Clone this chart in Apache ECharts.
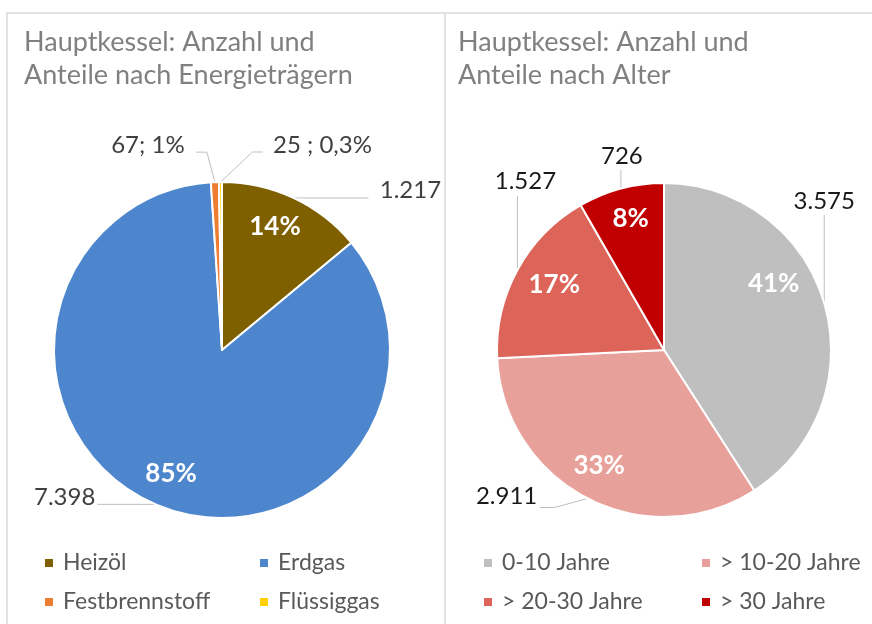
<!DOCTYPE html>
<html>
<head>
<meta charset="utf-8">
<script src="https://cdn.jsdelivr.net/npm/echarts@6/dist/echarts.min.js"></script>
<style>
html, body { margin: 0; padding: 0; background: #fff; }
#main { width: 872px; height: 624px; }
</style>
</head>
<body>
<div id="main"></div>
<script>
// Daten
var energyNames = ['Heizöl', 'Erdgas', 'Festbrennstoff', 'Flüssiggas'];
var energyValues = [1217, 7398, 67, 25];
var energyLabels = ['1.217', '7.398', '67; 1%', '25 ; 0,3%'];
var energyColors = ['#7F6000', '#4E86CE', '#ED7D31', '#FFD200'];

var ageNames = ['0-10 Jahre', '> 10-20 Jahre', '> 20-30 Jahre', '> 30 Jahre'];
var ageValues = [3575, 2911, 1527, 726];
var ageLabels = ['3.575', '2.911', '1.527', '726'];
var ageColors = ['#BFBFBF', '#E8A09A', '#DC6459', '#C00000'];

// Platzierung der Beschriftungen relativ zum Ankerpunkt auf dem Kreisbogen
var energyLabelPos = [
    { dx: 117, dy: -8, line: [[75, 0]] },
    { dx: -91, dy: -7, line: [[-58, 0]] },
    { dx: -67, dy: -37, line: [[-8, -30], [-19, -30]] },
    { dx: 102, dy: -37, line: [[32, -30], [42, -30]] }
];
var ageLabelPos = [
    { dx: 0, dy: -102, line: [[0, -88]] },
    { dx: -81, dy: -2, line: [[-33, 9], [-48, 9]] },
    { dx: 8, dy: -89, line: [[0, -74]] },
    { dx: 1, dy: -32, line: [[0, -19]] }
];
// Verschiebung der Prozentwerte im Kreis
var energyInnerShift = [[-4, -2], [2, 0], [0, 0], [0, 0]];
var ageInnerShift = [[-18, -29], [-4, -3], [7, -2], [1, -3]];

var FONT = 'Lato';

function buildData(names, values, colors) {
    return names.map(function (n, i) {
        return { name: n, value: values[i], itemStyle: { color: colors[i] } };
    });
}

function layoutFn(pos) {
    return function (params) {
        var p = pos[params.dataIndex];
        var a = params.labelLinePoints ? params.labelLinePoints[0] : [params.rect.x, params.rect.y];
        var pts = [[a[0], a[1]]];
        p.line.forEach(function (q) { pts.push([a[0] + q[0], a[1] + q[1]]); });
        return {
            x: a[0] + p.dx,
            y: a[1] + p.dy,
            align: 'center',
            verticalAlign: 'middle',
            labelLinePoints: pts
        };
    };
}

function outerSeries(center, r, names, values, colors, labels, pos, textColor) {
    return {
        type: 'pie',
        center: center,
        radius: r,
        startAngle: 90,
        clockwise: true,
        avoidLabelOverlap: false,
        data: buildData(names, values, colors),
        itemStyle: { borderColor: '#fff', borderWidth: 2 },
        label: {
            show: true,
            position: 'outside',
            formatter: function (p) { return labels[p.dataIndex]; },
            fontFamily: FONT,
            fontSize: 24,
            color: textColor
        },
        labelLine: { show: true, length: 10, length2: 10, lineStyle: { color: '#BFBFBF', width: 1 } },
        labelLayout: layoutFn(pos),
        emphasis: { disabled: true }
    };
}

function innerSeries(center, r0, r, names, values, shift) {
    return {
        type: 'pie',
        center: center,
        radius: [r0, r],
        startAngle: 90,
        silent: true,
        data: names.map(function (n, i) { return { name: n, value: values[i] }; }),
        itemStyle: { color: 'transparent', borderWidth: 0 },
        label: {
            show: true,
            position: 'inside',
            formatter: function (p) { return p.percent >= 5 ? Math.round(p.percent) + '%' : ''; },
            fontFamily: FONT,
            fontSize: 26,
            fontWeight: 'bold',
            color: '#fff'
        },
        labelLine: { show: false },
        labelLayout: function (params) {
            var s = shift[params.dataIndex];
            return { dx: s[0], dy: s[1] };
        },
        tooltip: { show: false },
        emphasis: { disabled: true }
    };
}

function legend(left, top, items) {
    return {
        orient: 'vertical',
        left: left,
        top: top,
        padding: 0,
        data: items,
        icon: 'rect',
        itemWidth: 10,
        itemHeight: 10,
        itemGap: 13,
        selectedMode: false,
        textStyle: { fontFamily: FONT, fontSize: 23, color: '#595959', lineHeight: 26, padding: [0, 0, 0, 4] }
    };
}

var myChart = echarts.init(document.getElementById('main'));

var option = {
    backgroundColor: '#fff',
    animation: false,
    title: [{
        text: 'Hauptkessel: Anzahl und\nAnteile nach Energieträgern',
        left: 19,
        top: 21,
        textStyle: { fontFamily: FONT, fontSize: 27, fontWeight: 'normal', color: '#808080', lineHeight: 33 }
    }, {
        text: 'Hauptkessel: Anzahl und\nAnteile nach Alter',
        left: 453,
        top: 21,
        textStyle: { fontFamily: FONT, fontSize: 27, fontWeight: 'normal', color: '#808080', lineHeight: 33 }
    }],
    legend: [
        legend(43, 550, [energyNames[0], energyNames[2]]),
        legend(258, 550, [energyNames[1], energyNames[3]]),
        legend(482, 550, [ageNames[0], ageNames[2]]),
        legend(700, 550, [ageNames[1], ageNames[3]])
    ],
    graphic: [
        { type: 'polyline', shape: { points: [[7, 624], [7, 13], [444, 13]] }, style: { stroke: '#D9D9D9', lineWidth: 1.5, fill: null } },
        { type: 'polyline', shape: { points: [[445, 624], [445, 13], [872, 13]] }, style: { stroke: '#D9D9D9', lineWidth: 1.5, fill: null } }
    ],
    series: [
        outerSeries([222, 350], 168, energyNames, energyValues, energyColors, energyLabels, energyLabelPos, '#404040'),
        innerSeries([222, 350], 94, 168, energyNames, energyValues, energyInnerShift),
        outerSeries([664, 350], 167, ageNames, ageValues, ageColors, ageLabels, ageLabelPos, '#1a1a1a'),
        innerSeries([664, 350], 93, 167, ageNames, ageValues, ageInnerShift)
    ]
};

myChart.setOption(option);
</script>
</body>
</html>
